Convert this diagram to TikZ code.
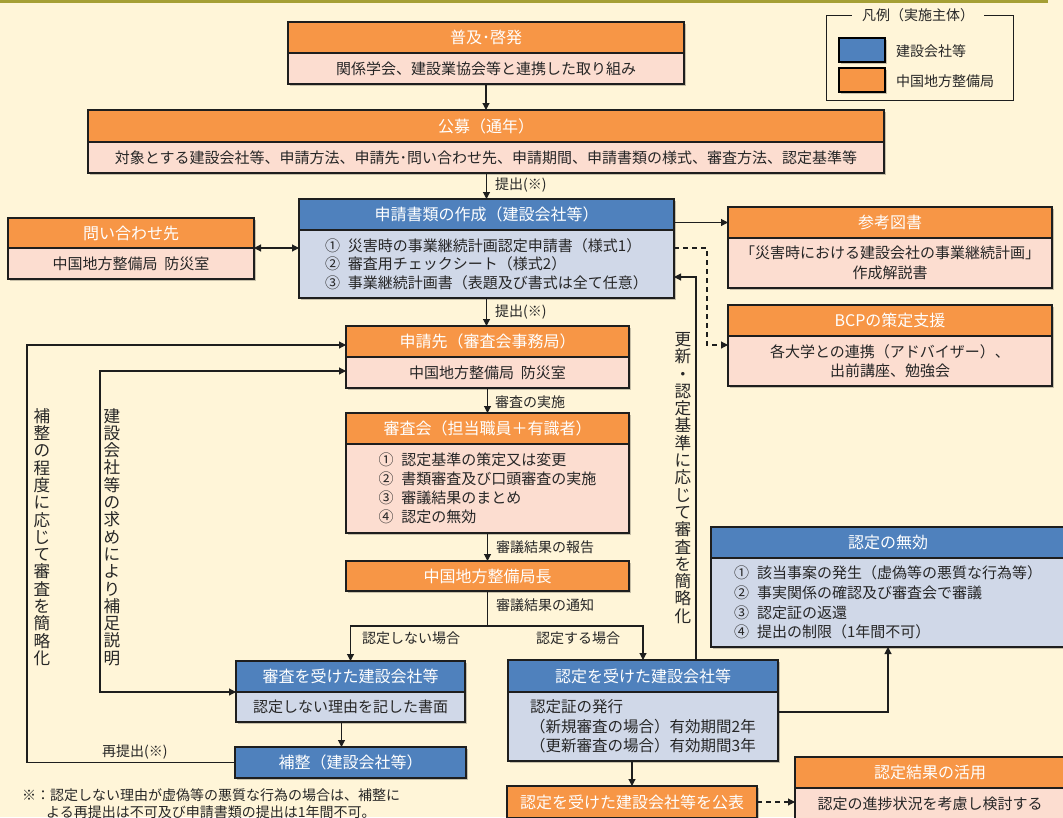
\documentclass[tikz,border=0pt]{standalone}
\usepackage{fontspec}
\setmainfont{Noto Sans CJK JP}
\usetikzlibrary{arrows.meta,shadows}
\definecolor{bg}{HTML}{FFF5D8}
\definecolor{olive}{HTML}{A59F35}
\definecolor{orangeH}{HTML}{F79646}
\definecolor{pinkB}{HTML}{FCDDD0}
\definecolor{blueH}{HTML}{4F81BD}
\definecolor{blueB}{HTML}{D0D8E8}
\definecolor{bordercol}{HTML}{1E1E1E}
\definecolor{txt}{HTML}{262626}
\newcommand\hdrf{\fontsize{16}{19}\selectfont}
\newcommand\bodyf{\fontsize{15}{19}\selectfont}
\newcommand\lblf{\fontsize{14}{17}\selectfont}
\newcommand\vertf{\fontsize{16.6}{17.3}\selectfont}
\newcommand\legf{\fontsize{14}{16}\selectfont}
\newcommand\gp{\hspace{8pt}}
\tikzset{
  shd/.style={drop shadow={shadow xshift=2pt,shadow yshift=-2pt,opacity=0.22,fill=black}},
  hdr/.style={draw=bordercol,line width=1.6pt,inner sep=0pt,outer sep=0pt,anchor=north west,font=\hdrf,text=white,shd},
  ohdr/.style={hdr,fill=orangeH},
  bhdr/.style={hdr,fill=blueH},
  bdy/.style={draw=bordercol,line width=1.6pt,inner sep=0pt,outer sep=0pt,anchor=north,font=\bodyf,text=txt,align=left,shd},
  obdy/.style={bdy,fill=pinkB},
  bbdy/.style={bdy,fill=blueB},
  conn/.style={draw=bordercol,line width=1.1pt,-{Triangle[length=7pt,width=7pt]}},
  conntwo/.style={draw=bordercol,line width=1.1pt,{Triangle[length=7pt,width=7pt]}-{Triangle[length=7pt,width=7pt]}},
  plainline/.style={draw=bordercol,line width=1.1pt},
  dsh/.style={dash pattern=on 5pt off 4pt},
  lbl/.style={font=\lblf,text=txt,inner sep=0pt,anchor=west},
  vert/.style={font=\vertf,text=txt,align=center,inner sep=0pt},
  swatch/.style={draw=black,line width=2.4pt,inner sep=0pt,outer sep=0pt,anchor=north west,minimum width=46pt,minimum height=24pt,shd},
}
\begin{document}
\begin{tikzpicture}[x=1pt,y=-1pt]
\useasboundingbox (0,0) rectangle (1063,817);
\fill[bg] (0,0) rectangle (1063,817);
\fill[olive] (0,0) rectangle (1048,3);

% boxes
\node[ohdr,minimum width=396pt,minimum height=31pt] (fukyu-h) at (288,22) {普及･啓発};
\node[obdy,minimum width=396pt,minimum height=31pt] (fukyu-b) at (fukyu-h.south) {関係学会、建設業協会等と連携した取り組み};

\node[ohdr,minimum width=796pt,minimum height=32pt] (kobo-h) at (88,110) {公募（通年）};
\node[obdy,minimum width=796pt,minimum height=31pt] (kobo-b) at (kobo-h.south) {対象とする建設会社等、申請方法、申請先･問い合わせ先、申請期間、申請書類の様式、審査方法、認定基準等};

\node[bhdr,minimum width=375pt,minimum height=31pt] (shinsei-h) at (299,199) {申請書類の作成（建設会社等）};
\node[bbdy,minimum width=375pt,minimum height=68pt,font=\fontsize{15}{18.5}\selectfont] (shinsei-b) at (shinsei-h.south) {①\gp 災害時の事業継続計画認定申請書（様式1）\\②\gp 審査用チェックシート（様式2）\\③\gp 事業継続計画書（表題及び書式は全て任意）};

\node[ohdr,minimum width=246pt,minimum height=30pt] (toi-h) at (8,218) {問い合わせ先};
\node[obdy,minimum width=246pt,minimum height=31pt] (toi-b) at (toi-h.south) {中国地方整備局\hspace{7pt}防災室};

\node[ohdr,minimum width=324pt,minimum height=31pt] (sanko-h) at (728,207) {参考図書};
\node[obdy,minimum width=324pt,minimum height=50pt,align=center,font=\fontsize{15}{20}\selectfont] (sanko-b) at (sanko-h.south) {「災害時における建設会社の事業継続計画」\\作成解説書};

\node[ohdr,minimum width=324pt,minimum height=31pt] (bcp-h) at (728,305) {BCPの策定支援};
\node[obdy,minimum width=324pt,minimum height=50pt,align=center,font=\fontsize{15}{19.5}\selectfont] (bcp-b) at (bcp-h.south) {各大学との連携（アドバイザー）、\\出前講座、勉強会};

\node[ohdr,minimum width=283pt,minimum height=31pt] (saki-h) at (346,326) {申請先（審査会事務局）};
\node[obdy,minimum width=283pt,minimum height=31pt] (saki-b) at (saki-h.south) {中国地方整備局\hspace{7pt}防災室};

\node[ohdr,minimum width=283pt,minimum height=31pt] (kai-h) at (346,413) {審査会（担当職員＋有識者）};
\node[obdy,minimum width=283pt,minimum height=89pt] (kai-b) at (kai-h.south) {①\gp 認定基準の策定又は変更\\②\gp 書類審査及び口頭審査の実施\\③\gp 審議結果のまとめ\\④\gp 認定の無効};

\node[ohdr,minimum width=283pt,minimum height=30pt] (cho) at (346,561) {中国地方整備局長};

\node[bhdr,minimum width=229pt,minimum height=31pt] (uke-h) at (236,661) {審査を受けた建設会社等};
\node[bbdy,minimum width=229pt,minimum height=30pt] (uke-b) at (uke-h.south) {認定しない理由を記した書面};

\node[bhdr,minimum width=231pt,minimum height=31pt] (hosei) at (235,747) {補整（建設会社等）};

\node[bhdr,minimum width=270pt,minimum height=32pt] (nin-h) at (508,660) {認定を受けた建設会社等};
\node[bbdy,minimum width=270pt,minimum height=69pt,font=\fontsize{15.5}{19.5}\selectfont] (nin-b) at (nin-h.south) {認定証の発行\\（新規審査の場合）有効期間2年\\（更新審査の場合）有効期間3年};

\node[bhdr,minimum width=354pt,minimum height=31pt] (mu-h) at (711,527) {認定の無効};
\node[bbdy,minimum width=354pt,minimum height=89pt,font=\fontsize{15}{19.6}\selectfont] (mu-b) at (mu-h.south) {①\gp 該当事案の発生（虚偽等の悪質な行為等）\\②\gp 事実関係の確認及び審査会で審議\\③\gp 認定証の返還\\④\gp 提出の制限（1年間不可）};

\node[ohdr,minimum width=250pt,minimum height=32pt] (kohyo) at (507,786) {認定を受けた建設会社等を公表};

\node[ohdr,minimum width=270pt,minimum height=31pt] (kat-h) at (795,757) {認定結果の活用};
\node[obdy,minimum width=270pt,minimum height=32pt] (kat-b) at (kat-h.south) {認定の進捗状況を考慮し検討する};

% legend
\node[draw=bordercol,line width=0.9pt,minimum width=187pt,minimum height=85pt,anchor=north west,inner sep=0pt] (leg) at (826,15) {};
\node[fill=bg,font=\legf,text=txt,inner xsep=10pt,inner ysep=1pt] (legt) at (918,15) {凡例（実施主体）};
\node[swatch,fill=blueH] (sw1) at (839,38) {};
\node[swatch,fill=orangeH] (sw2) at (839,68) {};
\node[font=\legf,text=txt,inner sep=0pt,anchor=west] (lg1) at (896,51) {建設会社等};
\node[font=\legf,text=txt,inner sep=0pt,anchor=west] (lg2) at (896,81) {中国地方整備局};

% coordinates for bends
\coordinate (upd) at (696,277);
\coordinate (d1) at (707,248);
\coordinate (d2) at (707,345);
\coordinate (br) at (487,626);
\coordinate (L1) at (27,345);
\coordinate (L2) at (100,371);

% connectors
\draw[conn] (fukyu-b.south) -- (fukyu-b.south |- kobo-h.north);
\draw[conn] (kobo-b.south -| shinsei-h.north) -- (shinsei-h.north);
\draw[conntwo] (toi-h.south east) -- (toi-h.south east -| shinsei-b.west);
\draw[conn] (sanko-h.west -| shinsei-h.east) -- (sanko-h.west);
\draw[conn,dsh] (d1 -| shinsei-b.east) -- (d1) -- (d2) -- (d2 -| bcp-b.west);
\draw[conn] (upd |- nin-h.north) -- (upd) -- (upd -| shinsei-b.east);
\draw[conn] (shinsei-b.south) -- (shinsei-b.south |- saki-h.north);
\draw[conn] (saki-b.south) -- (kai-h.north);
\draw[conn] (kai-b.south) -- (cho.north);
\draw[conn] (cho.south) |- (br -| uke-h.north) -- (uke-h.north);
\draw[conn] (cho.south |- br) -| (nin-h.north);
\draw[conn] ([xshift=-9pt]uke-b.south) -- ([xshift=-9pt]uke-b.south |- hosei.north);
\draw[conn] (hosei.west) -| (L1) -- (L1 -| saki-h.west);
\draw[conntwo] (uke-h.south west) -| (L2) -- (L2 -| saki-b.west);
\draw[conn] ([yshift=-20pt]nin-b.north east) -| (mu-b.south);
\draw[conn] (kohyo.north |- nin-b.south) -- (kohyo.north);
\draw[conn,dsh] (kohyo.east) -- (kohyo.east -| kat-b.west);

% labels
\node[lbl] (t1) at (495,185) {提出(※)};
\node[lbl] (t2) at (495,312) {提出(※)};
\node[lbl] (t3) at (495,402) {審査の実施};
\node[lbl] (t4) at (496,547) {審議結果の報告};
\node[lbl] (t5) at (496,605) {審議結果の通知};
\node[lbl] (t6) at (362,638) {認定しない場合};
\node[lbl] (t7) at (536,638) {認定する場合};
\node[lbl] (t8) at (102,752) {再提出(※)};

% vertical texts
\node[vert] (v1) at (42,537) {補\\整\\の\\程\\度\\に\\応\\じ\\て\\審\\査\\を\\簡\\略\\化};
\node[vert] (v2) at (112,537) {建\\設\\会\\社\\等\\の\\求\\め\\に\\よ\\り\\補\\足\\説\\明};
\node[vert] (v3) at (683,478) {更\\新\\・\\認\\定\\基\\準\\に\\応\\じ\\て\\審\\査\\を\\簡\\略\\化};

% footnote
\node[lbl] (n1) at (22,795) {※：認定しない理由が虚偽等の悪質な行為の場合は、補整に};
\node[lbl] (n2) at (46,812) {よる再提出は不可及び申請書類の提出は1年間不可。};
\end{tikzpicture}
\end{document}
